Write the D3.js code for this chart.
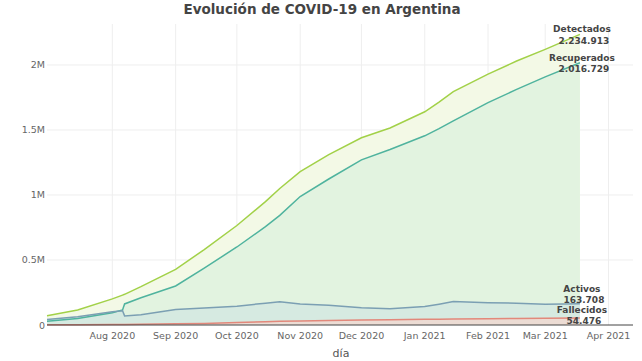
<!DOCTYPE html>
<html>
<head>
<meta charset="utf-8">
<script src="https://cdn.jsdelivr.net/npm/d3@7"></script>
<style>
  body { margin: 0; background: #fff; }
  text { font-family: "DejaVu Sans", Verdana, sans-serif; }
</style>
</head>
<body>
<script>
// fechas de los datos
const dates = [
  "2020-06-30", "2020-07-15", "2020-08-01", "2020-08-06", "2020-08-07", "2020-08-15",
  "2020-09-01", "2020-09-15", "2020-10-01", "2020-10-15", "2020-10-22", "2020-11-01",
  "2020-11-15", "2020-12-01", "2020-12-15", "2021-01-01", "2021-01-08", "2021-01-15",
  "2021-02-01", "2021-02-15", "2021-03-01", "2021-03-18"
]
const detectados = [72000, 115000, 201000, 230000, 236000, 295000, 428000, 580000, 765000, 949000, 1050000, 1180000,
  1310000, 1440000, 1515000, 1640000, 1715000, 1795000, 1930000, 2030000, 2120000, 2234913]
const recuperados = [28000, 50000, 95000, 116000, 162000, 210000, 300000, 438000, 600000, 756000, 843000, 988000,
  1123000, 1270000, 1350000, 1455000, 1510000, 1570000, 1710000, 1812000, 1908000, 2016729]
const activos = [43000, 63000, 102000, 110000, 70000, 79000, 119000, 130000, 145000, 168000, 178000, 161000,
  152000, 132000, 125000, 142000, 160000, 180000, 172000, 168000, 160000, 163708]
const fallecidos = [1300, 2100, 3800, 4400, 4500, 6000, 9000, 12000, 20000, 25000, 28000, 31000,
  35000, 38500, 41000, 43300, 44500, 45500, 48000, 50000, 52000, 54476]
const yTicks = [0, 500000, 1000000, 1500000, 2000000]
const yTickLabels = ["0", "0.5M", "1M", "1.5M", "2M"]
const xTicks = ["2020-08-01", "2020-09-01", "2020-10-01", "2020-11-01", "2020-12-01",
  "2021-01-01", "2021-02-01", "2021-03-01", "2021-04-01"]

const width = 642
const height = 361
const parse = d3.timeParse("%Y-%m-%d")
const fmt = d3.format(",")
const esNum = v => fmt(v).replace(/,/g, ".")

const svg = d3.select("body").append("svg")
    .attr("width", width)
    .attr("height", height)

const x = d3.scaleTime()
    .domain([parse("2020-06-30"), parse("2021-04-13")])
    .range([47, 633])
const y = d3.scaleLinear()
    .domain([0, 2315000])
    .range([325, 24])

// grilla
svg.append("g").selectAll("line").data(xTicks).enter().append("line")
    .attr("x1", d => x(parse(d))).attr("x2", d => x(parse(d)))
    .attr("y1", 24).attr("y2", 325)
    .attr("stroke", "#eeeeee")
svg.append("g").selectAll("line").data(yTicks.slice(1)).enter().append("line")
    .attr("x1", 47).attr("x2", 633)
    .attr("y1", d => y(d)).attr("y2", d => y(d))
    .attr("stroke", "#eeeeee")

const series = [
  { name: "Detectados", values: detectados, line: "#a2d148", fill: "#f3f9e6" },
  { name: "Recuperados", values: recuperados, line: "#4fb39e", fill: "#e2f3e0" },
  { name: "Activos", values: activos, line: "#7b9fb3", fill: "#d6eae1" },
  { name: "Fallecidos", values: fallecidos, line: "#e2887b", fill: "#ecdcd4" }
]

series.forEach(s => {
  const pts = dates.map((d, i) => [parse(d), s.values[i]])
  svg.append("path")
      .datum(pts)
      .attr("fill", s.fill)
      .attr("d", d3.area().x(d => x(d[0])).y0(y(0)).y1(d => y(d[1])))
})

series.forEach(s => {
  const pts = dates.map((d, i) => [parse(d), s.values[i]])
  svg.append("path")
      .datum(pts)
      .attr("fill", "none")
      .attr("stroke", s.line)
      .attr("stroke-width", 1.5)
      .attr("d", d3.line().x(d => x(d[0])).y(d => y(d[1])))
})

// linea del cero
svg.append("line")
    .attr("x1", 47).attr("x2", 633)
    .attr("y1", y(0)).attr("y2", y(0))
    .attr("stroke", "#444").attr("stroke-width", 1)

// etiquetas de ejes
svg.append("g").selectAll("text").data(yTicks).enter().append("text")
    .attr("x", 45).attr("y", d => y(d) + 3.5)
    .attr("text-anchor", "end")
    .attr("font-size", 9.5).attr("fill", "#666")
    .text((d, i) => yTickLabels[i])

const monthFmt = d3.timeFormat("%b %Y")
svg.append("g").selectAll("text").data(xTicks).enter().append("text")
    .attr("x", d => x(parse(d))).attr("y", 339)
    .attr("text-anchor", "middle")
    .attr("font-size", 9.5).attr("fill", "#666")
    .text(d => monthFmt(parse(d)))

svg.append("text")
    .attr("x", 341).attr("y", 357)
    .attr("text-anchor", "middle")
    .attr("font-size", 11).attr("fill", "#555")
    .text("día")

svg.append("text")
    .attr("x", 322).attr("y", 14)
    .attr("text-anchor", "middle")
    .attr("font-size", 13.5).attr("font-weight", "bold").attr("fill", "#444")
    .text("Evolución de COVID-19 en Argentina")

// etiquetas al final de cada serie
const labelShift = { Detectados: 0, Recuperados: 0, Activos: -10, Fallecidos: -3 }
const last = dates.length - 1
series.forEach(s => {
  const cx = x(parse(dates[last])) + 2
  const cy = y(s.values[last]) + labelShift[s.name]
  const t = svg.append("text")
      .attr("text-anchor", "middle")
      .attr("font-size", 9).attr("font-weight", "bold").attr("fill", "#444")
  t.append("tspan").attr("x", cx).attr("y", cy - 2).text(s.name)
  t.append("tspan").attr("x", cx + 2).attr("y", cy + 9.5).text(esNum(s.values[last]))
})
</script>
</body>
</html>
